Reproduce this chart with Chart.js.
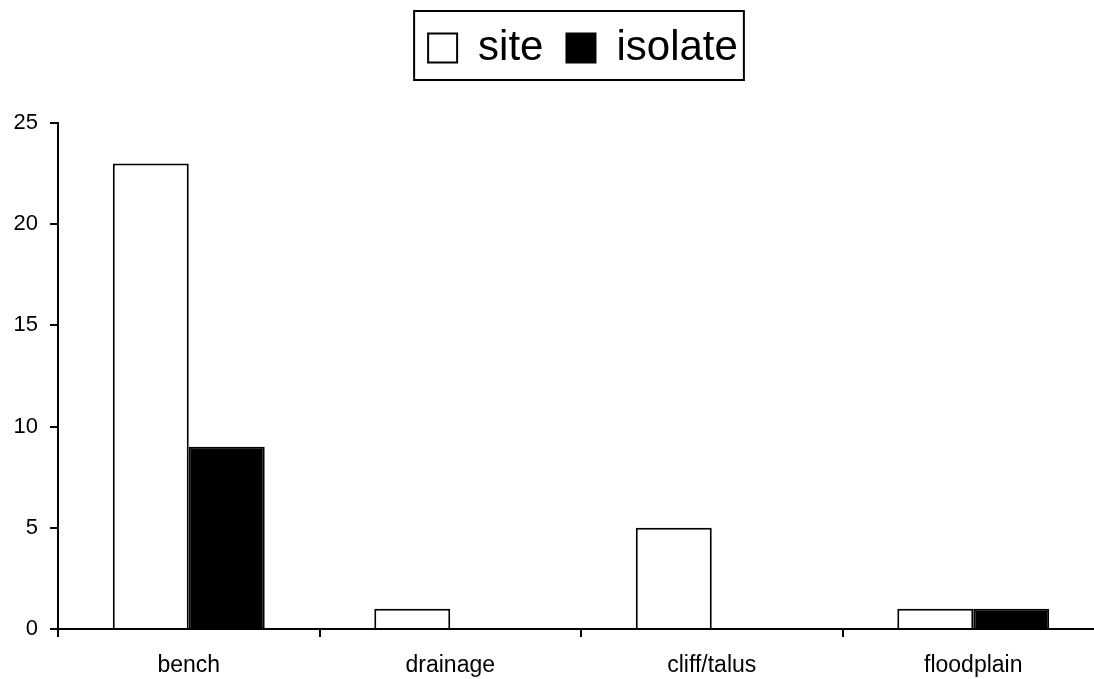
<!DOCTYPE html>
<html>
<head>
<meta charset="utf-8">
<script src="https://cdn.jsdelivr.net/npm/chart.js@4/dist/chart.umd.min.js"></script>
<style>
  html, body { margin: 0; padding: 0; background: #fff; overflow: hidden; }
  #wrap { width: 1110px; height: 679px; }
</style>
</head>
<body>
<div id="wrap"><canvas id="landformChart" width="1110" height="679"></canvas></div>
<script>
var categories = ["bench", "drainage", "cliff/talus", "floodplain"];
var siteCounts = [23, 1, 5, 1];
var isolateCounts = [9, 0, 0, 1];
var yTicks = [0, 5, 10, 15, 20, 25];

// extra room under the legend, nudge it right, and draw the box round it
var legendBorder = {
  id: "legendBorder",
  afterInit: function (chart) {
    var lg = chart.legend;
    if (!lg) return;
    var origFit = lg.fit;
    lg.fit = function () {
      origFit.call(this);
      this.height += 44;
    };
  },
  afterLayout: function (chart) {
    if (chart.legend) chart.legend.left += 62;
  },
  afterDraw: function (chart) {
    var lg = chart.legend;
    if (!lg || !lg.legendHitBoxes || !lg.legendHitBoxes.length) return;
    var boxes = lg.legendHitBoxes;
    var left = boxes[0].left, right = 0;
    boxes.forEach(function (b) {
      left = Math.min(left, b.left);
      right = Math.max(right, b.left + b.width);
    });
    var ctx = chart.ctx;
    ctx.save();
    ctx.strokeStyle = "#000";
    ctx.lineWidth = 2;
    ctx.strokeRect(left - 14, 11, (right + 6) - (left - 14), 69);
    ctx.restore();
  }
};

var ctx = document.getElementById("landformChart").getContext("2d");
var landformChart = new Chart(ctx, {
  type: "bar",
  data: {
    labels: categories,
    datasets: [
      {
        label: "site",
        data: siteCounts,
        backgroundColor: "#ffffff",
        borderColor: "#000000",
        borderWidth: 2,
        categoryPercentage: 0.581,
        barPercentage: 1.0
      },
      {
        label: "isolate",
        data: isolateCounts,
        backgroundColor: "#000000",
        borderColor: "#000000",
        borderWidth: 2,
        categoryPercentage: 0.581,
        barPercentage: 1.0
      }
    ]
  },
  options: {
    responsive: false,
    animation: false,
    devicePixelRatio: 1,
    layout: { padding: { left: 0, right: 6, top: 4, bottom: 0 } },
    plugins: {
      tooltip: { enabled: false },
      legend: {
        position: "top",
        labels: {
          color: "#000",
          font: { family: "Liberation Sans, Arial, sans-serif", size: 42 },
          boxWidth: 29,
          boxHeight: 29,
          padding: 23
        }
      }
    },
    scales: {
      x: {
        afterFit: function (scale) { scale.height = 50; },
        grid: {
          offset: true,
          drawOnChartArea: false,
          drawTicks: true,
          tickLength: 8,
          color: "#000",
          lineWidth: 2
        },
        border: { color: "#000", width: 2 },
        ticks: {
          color: "#000",
          font: { family: "Liberation Sans, Arial, sans-serif", size: 23 },
          padding: 15,
          maxRotation: 0
        }
      },
      y: {
        min: 0,
        max: 25,
        afterFit: function (scale) { scale.width = 58; },
        afterBuildTicks: function (scale) {
          scale.ticks = yTicks.map(function (v) { return { value: v }; });
        },
        grid: {
          drawOnChartArea: false,
          drawTicks: true,
          tickLength: 8,
          color: "#000",
          lineWidth: 2
        },
        border: { color: "#000", width: 2 },
        ticks: {
          color: "#000",
          font: { family: "Liberation Sans, Arial, sans-serif", size: 22 },
          padding: 12
        }
      }
    }
  },
  plugins: [legendBorder]
});
</script>
</body>
</html>
